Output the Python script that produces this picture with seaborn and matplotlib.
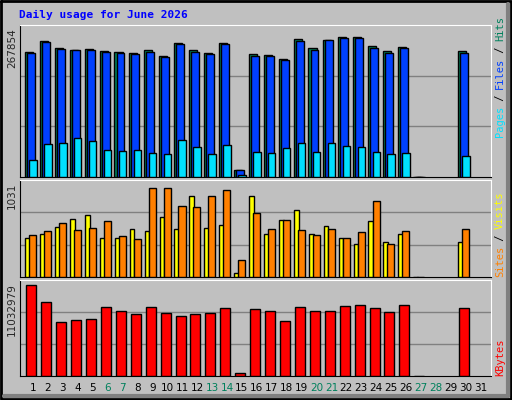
import numpy as np
import matplotlib
matplotlib.use("Agg")
import matplotlib.pyplot as plt
import seaborn as sns

sns.set_style("white")
plt.rcParams["font.family"] = ["DejaVu Sans Mono"]

days = list(range(1, 32))
weekend = [6, 7, 13, 14, 20, 21, 27, 28]
# None = no data for that day
hits = [238800, 259400, 246000, 242400, 244200, 240600, 238800, 236900, 242400, 231500,
        255100, 242400, 236900, 255100, 13300, 235100, 233300, 224200, 262400, 246000,
        260600, 267854, 267800, 249700, 240600, 247900, 600, None, None, 240600, None]
files = [236900, 257000, 244200, 242400, 242400, 238800, 236900, 235100, 238800, 229700,
         253300, 238800, 235100, 253300, 13300, 231500, 231500, 222400, 258800, 242400,
         260600, 266000, 266000, 246000, 236900, 246000, 0, None, None, 236900, None]
pages = [33300, 62400, 64200, 75100, 67900, 51500, 49700, 51500, 46100, 44200,
         69700, 57000, 44200, 60600, 4200, 47900, 46100, 55100, 64200, 47900,
         64200, 58800, 57000, 47900, 44200, 46100, 0, None, None, 40600, None]
visits = [448, 493, 583, 672, 717, 448, 448, 549, 527, 695,
          549, 941, 571, 605, 45, 930, 493, 661, 773, 493,
          594, 448, 381, 650, 403, 493, 2, None, None, 403, None]
sites = [482, 527, 627, 538, 571, 650, 471, 437, 1031, 1031,
         818, 807, 941, 1008, 202, 740, 560, 661, 538, 482,
         549, 448, 515, 874, 381, 527, 2, None, None, 549, None]
kbytes = [11032979, 8972000, 6547000, 6790000, 6911000, 8366000, 7881000, 7517000, 8366000, 7638000,
          7275000, 7517000, 7638000, 8244000, 364000, 8123000, 7881000, 6668000, 8366000, 7881000,
          7881000, 8487000, 8608000, 8244000, 7760000, 8608000, 30000, None, None, 8244000, None]

W, H = 512, 400
fig = plt.figure(figsize=(W / 100, H / 100), dpi=100)
fig.patch.set_facecolor("#c0c0c0")

# outer frame
frame = fig.add_axes([0, 0, 1, 1])
frame.set_xlim(0, W); frame.set_ylim(H, 0); frame.axis("off")
frame.plot([1, W - 1, W - 1, 1, 1], [1, 1, H - 1, H - 1, 1], color="black", lw=2)
frame.plot([4, W - 4], [H - 4, H - 4], color="#808080", lw=3)
frame.plot([W - 4, W - 4], [4, H - 4], color="#808080", lw=3)
frame.text(19, 15, "Daily usage for June 2026", color="#0000ff", fontsize=8,
           fontweight="bold", va="center", ha="left")

def panel(y0, y1):
    ax = fig.add_axes([20 / W, 1 - y1 / H, 471 / W, (y1 - y0) / H])
    ax.set_facecolor("#c0c0c0")
    ax.set_xlim(0.13, 31.69)
    for s in ["left", "bottom"]:
        ax.spines[s].set_color("black")
    for s in ["right", "top"]:
        ax.spines[s].set_color("white")
    ax.set_xticks([]); ax.set_yticks([])
    return ax

def bars(ax, vals, off, width, color):
    xs = [d + off for d, v in zip(days, vals) if v is not None]
    hs = [v for v in vals if v is not None]
    ax.bar(xs, hs, width=width, align="edge", color=color, edgecolor="black", lw=1, zorder=3)

def grid(ax, top):
    for f in (1 / 3, 2 / 3):
        ax.axhline(top * f, color="#808080", lw=1, zorder=1)

ax1 = panel(25, 177)
grid(ax1, 290000)
bars(ax1, hits, -0.54, 0.54, "#00805c")
bars(ax1, files, -0.40, 0.53, "#0040ff")
bars(ax1, pages, -0.25, 0.5, "#00e0ff")
ax1.set_ylim(0, 290000)

ax2 = panel(180, 277)
grid(ax2, 1120)
bars(ax2, visits, -0.52, 0.32, "#ffff00")
bars(ax2, sites, -0.25, 0.47, "#ff8000")
ax2.set_ylim(0, 1120)

ax3 = panel(280, 376)
grid(ax3, 11700000)
bars(ax3, kbytes, -0.45, 0.67, "#ff0000")
ax3.set_ylim(0, 11700000)

for d in days:
    frame.text(33 + (d - 1) * 14.92, 388, str(d), fontsize=7.5, ha="center", va="center",
               color="#00805c" if d in weekend else "black", family="DejaVu Sans")

frame.text(12, 28, "267854", rotation=90, fontsize=7.5, ha="center", va="top", family="DejaVu Sans")
frame.text(12, 183, "1031", rotation=90, fontsize=7.5, ha="center", va="top", family="DejaVu Sans")
frame.text(12, 283, "11032979", rotation=90, fontsize=7.5, ha="center", va="top", family="DejaVu Sans")

def right_label(y, parts):
    # parts listed bottom-to-top
    for txt, col in parts:
        t = frame.text(500, y, txt, rotation=90, fontsize=7.5, color=col, ha="center", va="bottom")
        y -= len(txt) * 6.0

right_label(137, [("Pages", "#00e0ff"), (" / ", "#000000"), ("Files", "#0040ff"),
                  (" / ", "#000000"), ("Hits", "#00805c")])
right_label(277, [("Sites", "#ff8000"), (" / ", "#000000"), ("Visits", "#ffff00")])
right_label(376, [("KBytes", "#ff0000")])

fig.savefig("out.png", dpi=100, facecolor=fig.get_facecolor())
